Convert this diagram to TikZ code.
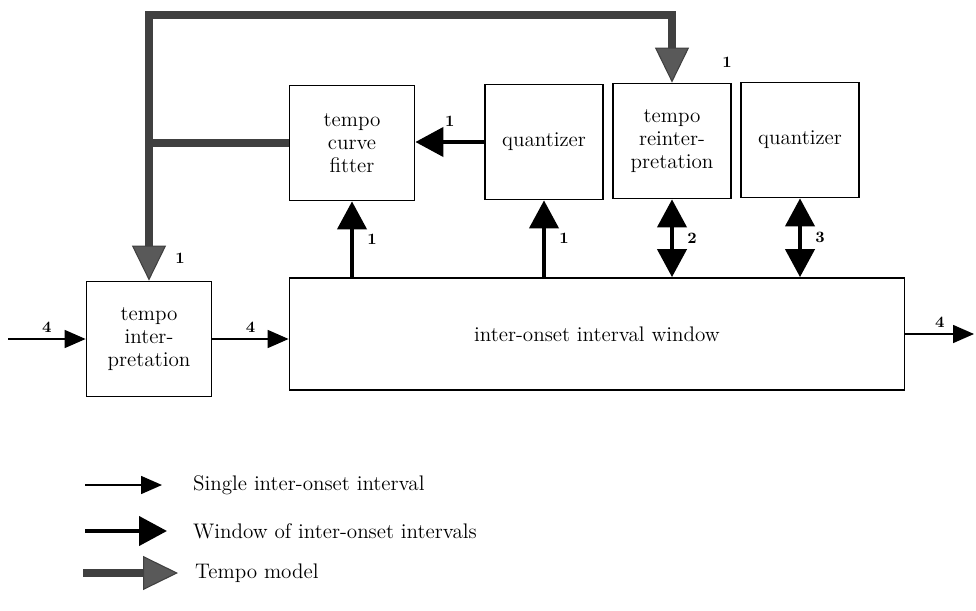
\documentclass[tikz,border=0pt]{standalone}
\usetikzlibrary{arrows.meta,calc}

\begin{document}
\begin{tikzpicture}[x=0.2mm,y=-0.2mm,
  blockbox/.style={draw,line width=1pt,minimum width=2.35cm,minimum height=2.3cm,align=center,font=\fontsize{12}{13}\selectfont},
  legendtext/.style={anchor=west,font=\fontsize{12}{13}\selectfont},
  lbl/.style={font=\small\bfseries},
  thinarrow/.style={-{Triangle[length=0.42cm,width=0.36cm]},line width=0.9pt},
  widearrow/.style={-{Triangle[length=0.56cm,width=0.58cm]},line width=2.4pt},
  widedouble/.style={{Triangle[length=0.56cm,width=0.58cm]}-{Triangle[length=0.56cm,width=0.58cm]},line width=2.4pt},
  tempoline/.style={line width=4.5pt,draw=black!75},
  tempoarrow/.style={tempoline,-{Triangle[length=0.7cm,width=0.68cm,line width=0.6pt,fill=black!65]}}]
  \useasboundingbox (0,0) rectangle (976,610);
  % blocks
  \node[blockbox,minimum width=2.5cm] (fitter) at (352,143) {tempo\\curve\\fitter};
  \node[blockbox] (quant1) at (544,142) {quantizer};
  \node[blockbox] (reint) at (672,141) {tempo\\reinter-\\pretation};
  \node[blockbox] (quant2) at (800,140) {quantizer};
  \node[blockbox,minimum width=2.5cm] (interp) at (149,339) {tempo\\inter-\\pretation};
  \node[blockbox,minimum width=12.3cm,minimum height=2.24cm] (window) at (597,334) {inter-onset interval window};
  \coordinate (src) at (8,339);
  \coordinate (sink) at (974,334);
  % single intervals
  \draw[thinarrow] (src) -- (interp.west) node[midway,above,lbl] {4};
  \draw[thinarrow] (interp.east) -- (interp.east -| window.west) node[midway,above,lbl] {4};
  \draw[thinarrow] (window.east) -- (sink) node[midway,above,lbl] {4};
  % windows
  \draw[widearrow] (fitter.south |- window.north) -- (fitter.south) node[midway,right=1.5mm,lbl] {1};
  \draw[widearrow] (quant1.south |- window.north) -- (quant1.south) node[midway,right=1.5mm,lbl] {1};
  \draw[widedouble] (reint.south |- window.north) -- (reint.south) node[midway,right=1.5mm,lbl] {2};
  \draw[widedouble] (quant2.south |- window.north) -- (quant2.south) node[midway,right=1.5mm,lbl] {3};
  \draw[widearrow] (quant1.west) -- (quant1.west -| fitter.east) node[midway,above=1.5mm,lbl] {1};
  % tempo model
  \coordinate (jn) at (interp.north |- fitter.west);
  \coordinate (ceil) at (400,15);
  \draw[tempoline] (fitter.west) -- (jn);
  \draw[tempoarrow] (jn) |- (ceil) -| (reint.north);
  \draw[tempoarrow] (jn |- ceil) -- (interp.north);
  \node[lbl] (t1) at (180,258) {1};
  \node[lbl] (t2) at (727,62) {1};
  % legend
  \coordinate (k1a) at (85,485);
  \coordinate (k1b) at (162,485);
  \coordinate (k2a) at (85,531);
  \coordinate (k2b) at (167,531);
  \coordinate (k3a) at (83,573);
  \coordinate (k3b) at (178,573);
  \draw[thinarrow] (k1a) -- (k1b);
  \draw[widearrow] (k2a) -- (k2b);
  \draw[tempoarrow] (k3a) -- (k3b);
  \node[legendtext] (k1) at (187,485) {Single inter-onset interval};
  \node[legendtext] (k2) at (187,531) {Window of inter-onset intervals};
  \node[legendtext] (k3) at (189,573) {Tempo model};
\end{tikzpicture}
\end{document}
